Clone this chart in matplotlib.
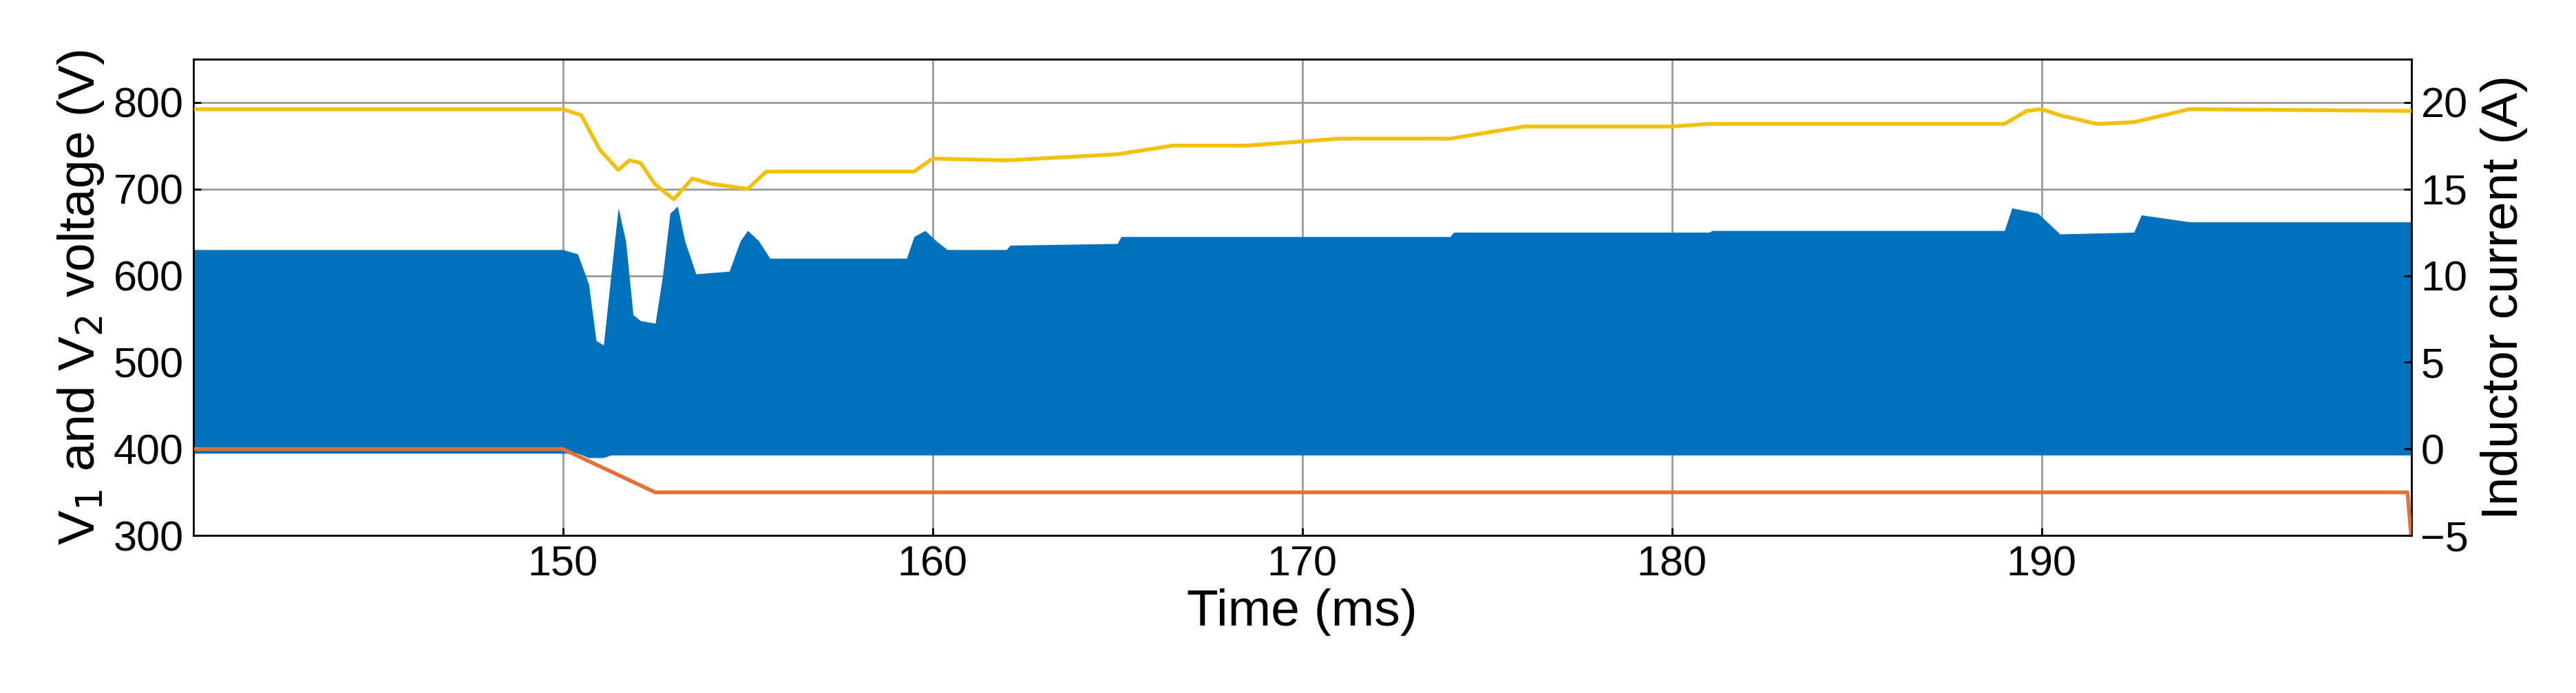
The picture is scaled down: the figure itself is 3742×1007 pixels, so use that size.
import matplotlib
matplotlib.use("Agg")
import matplotlib.pyplot as plt
import numpy as np

plt.rcParams['font.family'] = ['Liberation Sans', 'DejaVu Sans']

# Blue switching band envelope (left-axis units, V)
env_t = [140, 150, 150.4, 150.7, 150.9, 151.1, 151.3, 151.5, 151.7, 151.9, 152.1, 152.5, 152.7, 152.9, 153.1, 153.3, 153.6, 154.5, 154.8, 155.0, 155.3, 155.6, 159.3, 159.5, 159.8, 160.1, 160.4, 162.0, 162.1, 165.0, 165.1, 174.0, 174.1, 181.0, 181.1, 189.0, 189.2, 189.9, 190.5, 192.5, 192.7, 194.0, 200]
env_hi = [630, 630, 625, 590, 525, 520, 600, 678, 640, 555, 548, 545, 600, 672, 680, 640, 602, 605, 640, 652, 640, 620, 620, 645, 652, 640, 630, 630, 635, 637, 645, 645, 650, 650, 652, 652, 678, 672, 648, 650, 670, 662, 662]
env_lo = [395] * 3 + [390] * 3 + [393] * (len(env_t) - 6)

# Yellow voltage
v1_t = [140, 150, 150.5, 151.0, 151.5, 151.8, 152.1, 152.5, 153.0, 153.5, 154.0, 155.0, 155.5, 159.5, 160.0, 162.0, 165.0, 166.5, 168.5, 171.0, 174.0, 176.0, 180.0, 181.0, 189.0, 189.6, 190.0, 190.5, 191.5, 192.5, 194.0, 200]
v1 = [792, 792, 785, 745, 722, 733, 730, 705, 688, 712, 706, 700, 720, 720, 735, 733, 740, 750, 750, 758, 758, 772, 772, 775, 775, 790, 792, 785, 775, 777, 792, 790]

# Orange voltage
v2_t = [140, 150, 152.5, 199.9, 200]
v2 = [400, 400, 350, 350, 300]

fig = plt.figure(figsize=(37.42, 10.07), dpi=100)
ax = fig.add_axes([0.075, 0.227, 0.861, 0.688])
ax.fill_between(env_t, env_lo, env_hi, color='#0072BD', lw=0, zorder=2)
ax.plot(v1_t, v1, color='#F2C10E', lw=4, zorder=3)
ax.plot(v2_t, v2, color='#E0723A', lw=4, zorder=3)
ax.set_xlim(140, 200)
ax.set_ylim(300, 850)
ax.set_xticks([150, 160, 170, 180, 190])
ax.set_yticks([300, 400, 500, 600, 700, 800])
ax.grid(True, color='#999999', lw=2)
ax.set_axisbelow(True)
ax.tick_params(labelsize=44, length=8, width=2, direction='in', pad=10)
ax.set_xlabel('Time (ms)', fontsize=54, labelpad=4)
ax.set_ylabel('V$_1$ and V$_2$ voltage (V)', fontsize=54, labelpad=8)
for s in ax.spines.values():
    s.set_linewidth(2)
ax2 = ax.twinx()
ax2.set_ylim(-5, 22.5)
ax2.set_yticks([-5, 0, 5, 10, 15, 20])
ax2.tick_params(labelsize=44, length=8, width=2, direction='in', pad=10)
ax2.set_ylabel('Inductor current (A)', fontsize=54, labelpad=12)
fig.savefig('out.png', dpi=100)
